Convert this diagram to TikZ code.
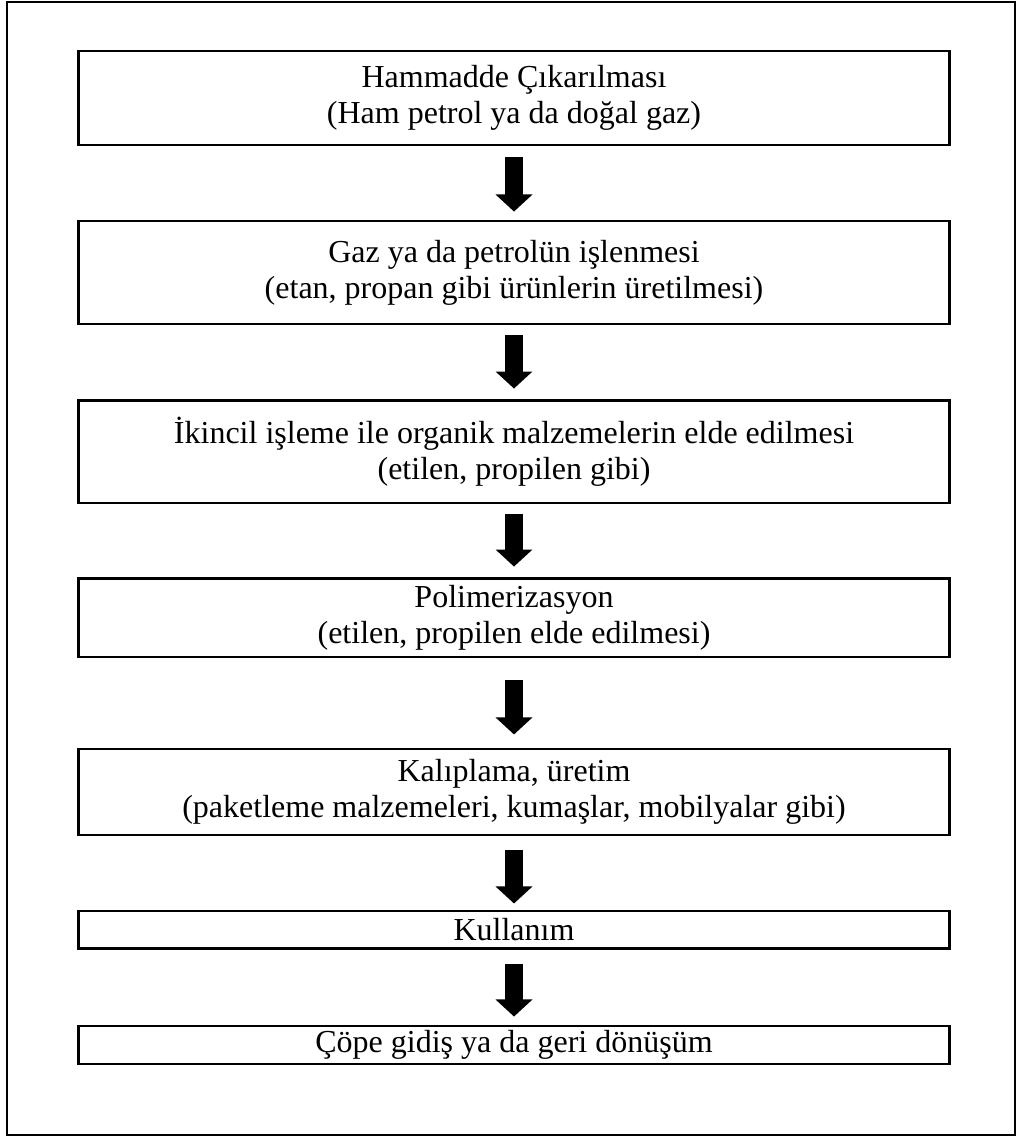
\documentclass[tikz,border=0pt]{standalone}
\usepackage{fontspec}
\setmainfont{Liberation Serif}
\usetikzlibrary{arrows.meta}

\begin{document}
\begin{tikzpicture}[x=0.375pt, y=-0.375pt,
    flowbox/.style={draw, line width=1.1pt, minimum width=326.3pt, inner sep=0pt,
        align=center, font=\fontsize{12}{13.6}\selectfont},
    blockarrow/.style={line width=6.75pt, -{Triangle[width=13.5pt, length=6.4pt]}}]
    \useasboundingbox (0,0) rectangle (1017,1137);
    % frame
    \draw[line width=1.1pt] (7,2) rectangle (1015,1135);
    % steps
    \node[flowbox, minimum height=35.25pt] (b1) at (514,98)
        {Hammadde Çıkarılması\\(Ham petrol ya da doğal gaz)};
    \node[flowbox, minimum height=38.6pt] (b2) at (514,272.5)
        {Gaz ya da petrolün işlenmesi\\(etan, propan gibi ürünlerin üretilmesi)};
    \node[flowbox, minimum height=38.6pt] (b3) at (514,451.5)
        {İkincil işleme ile organik malzemelerin elde edilmesi\\(etilen, propilen gibi)};
    \node[flowbox, minimum height=29.6pt] (b4) at (514,617.5)
        {Polimerizasyon\\(etilen, propilen elde edilmesi)};
    \node[flowbox, minimum height=32.25pt] (b5) at (514,792)
        {Kalıplama, üretim\\(paketleme malzemeleri, kumaşlar, mobilyalar gibi)};
    \node[flowbox, minimum height=13.9pt] (b6) at (514,929.5) {Kullanım};
    \node[flowbox, minimum height=14.25pt] (b7) at (514,1045) {Çöpe gidiş ya da geri dönüşüm};
    % arrows, with the gap left above and below each one
    \foreach \from/\to/\above/\below in {b1/b2/4.1pt/3pt, b2/b3/3.75pt/3.75pt,
            b3/b4/3.4pt/3.75pt, b4/b5/7.9pt/4.9pt, b5/b6/4.9pt/2.25pt, b6/b7/5.25pt/3pt}
        \draw[blockarrow, shorten <=\above, shorten >=\below] (\from) -- (\to);
\end{tikzpicture}
\end{document}
